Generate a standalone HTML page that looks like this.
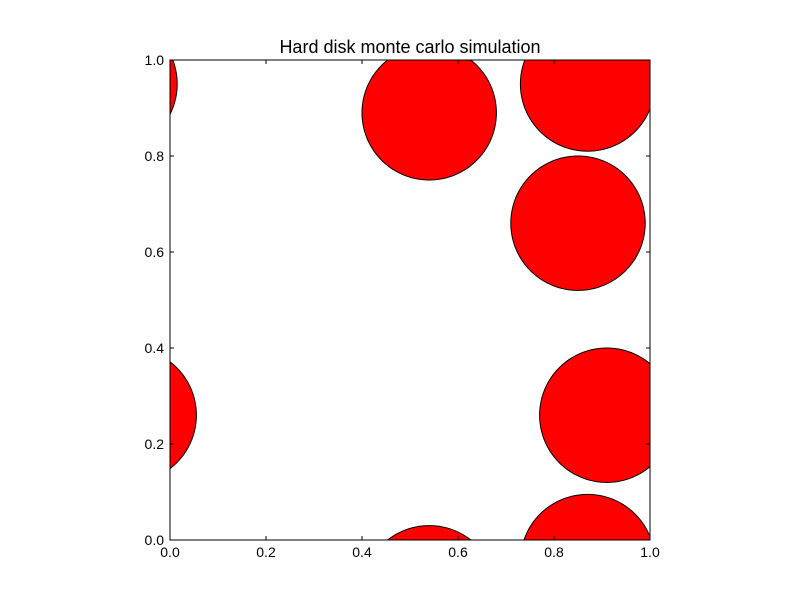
<!DOCTYPE html>
<html><head><meta charset="utf-8"><style>
html,body{margin:0;padding:0;background:#fff;width:800px;height:600px;overflow:hidden}
svg{display:block}
text{font-family:"Liberation Sans","DejaVu Sans",sans-serif;fill:#000}
</style></head><body>
<svg id="chart" width="800" height="600">
<rect width="800" height="600" fill="#fff"/>
<text x="410" y="53" font-size="18" text-anchor="middle">Hard disk monte carlo simulation</text>
<g id="disks"></g>
<rect x="170" y="60" width="480" height="480" fill="none" stroke="#000" stroke-width="1"/>
<g id="ticks"></g>
</svg>
<script>
const diskX=[0.54,0.87,0.85,0.91,0.87,0.54,-0.085,-0.125];
const diskY=[0.89,0.95,0.66,0.26,-0.045,-0.11,0.26,0.95];
const diskR=[0.14,0.14,0.14,0.14,0.14,0.14,0.14,0.14];
const xTicks=[0,0.2,0.4,0.6,0.8,1.0];
const yTicks=[0,0.2,0.4,0.6,0.8,1.0];
const tickLabels=["0.0","0.2","0.4","0.6","0.8","1.0"];
const NS="http://www.w3.org/2000/svg";
const X0=170,Y0=540,S=480;
const sx=v=>X0+v*S, sy=v=>Y0-v*S;
const clampX=v=>Math.min(650,Math.max(170,v));
const clampY=v=>Math.min(540,Math.max(60,v));
const g=document.getElementById('disks');
diskX.forEach((x,i)=>{
 const cx=sx(x),cy=sy(diskY[i]),r=diskR[i]*S;
 let d='';
 for(let k=0;k<=240;k++){
  const a=k/240*2*Math.PI;
  const px=clampX(cx+r*Math.cos(a)),py=clampY(cy+r*Math.sin(a));
  d+=(k?'L':'M')+px.toFixed(2)+' '+py.toFixed(2);
 }
 d+='Z';
 const c=document.createElementNS(NS,'path');
 c.setAttribute('d',d);
 c.setAttribute('fill','#ff0000');c.setAttribute('stroke','#000');c.setAttribute('stroke-width','1');
 
 
 g.appendChild(c);
});
const t=document.getElementById('ticks');
function add(tag,attrs,txt){const e=document.createElementNS(NS,tag);for(const k in attrs)e.setAttribute(k,attrs[k]);if(txt)e.textContent=txt;t.appendChild(e);return e;}
xTicks.forEach((v,i)=>{
 const x=sx(v);
 const a=add('line',{x1:x,x2:x,y1:540,y2:536,stroke:'#000'});
 
 
 const b=add('line',{x1:x,x2:x,y1:60,y2:64,stroke:'#000'});
 
 
 const l=add('text',{x:x,y:557,'font-size':14,'text-anchor':'middle'},tickLabels[i]);
 
 
});
yTicks.forEach((v,i)=>{
 const y=sy(v);
 const a=add('line',{x1:170,x2:174,y1:y,y2:y,stroke:'#000'});
 
 
 const b=add('line',{x1:650,x2:646,y1:y,y2:y,stroke:'#000'});
 
 
 const l=add('text',{x:164,y:y+5,'font-size':14,'text-anchor':'end'},tickLabels[i]);
 
 
});
</script>
</body></html>
